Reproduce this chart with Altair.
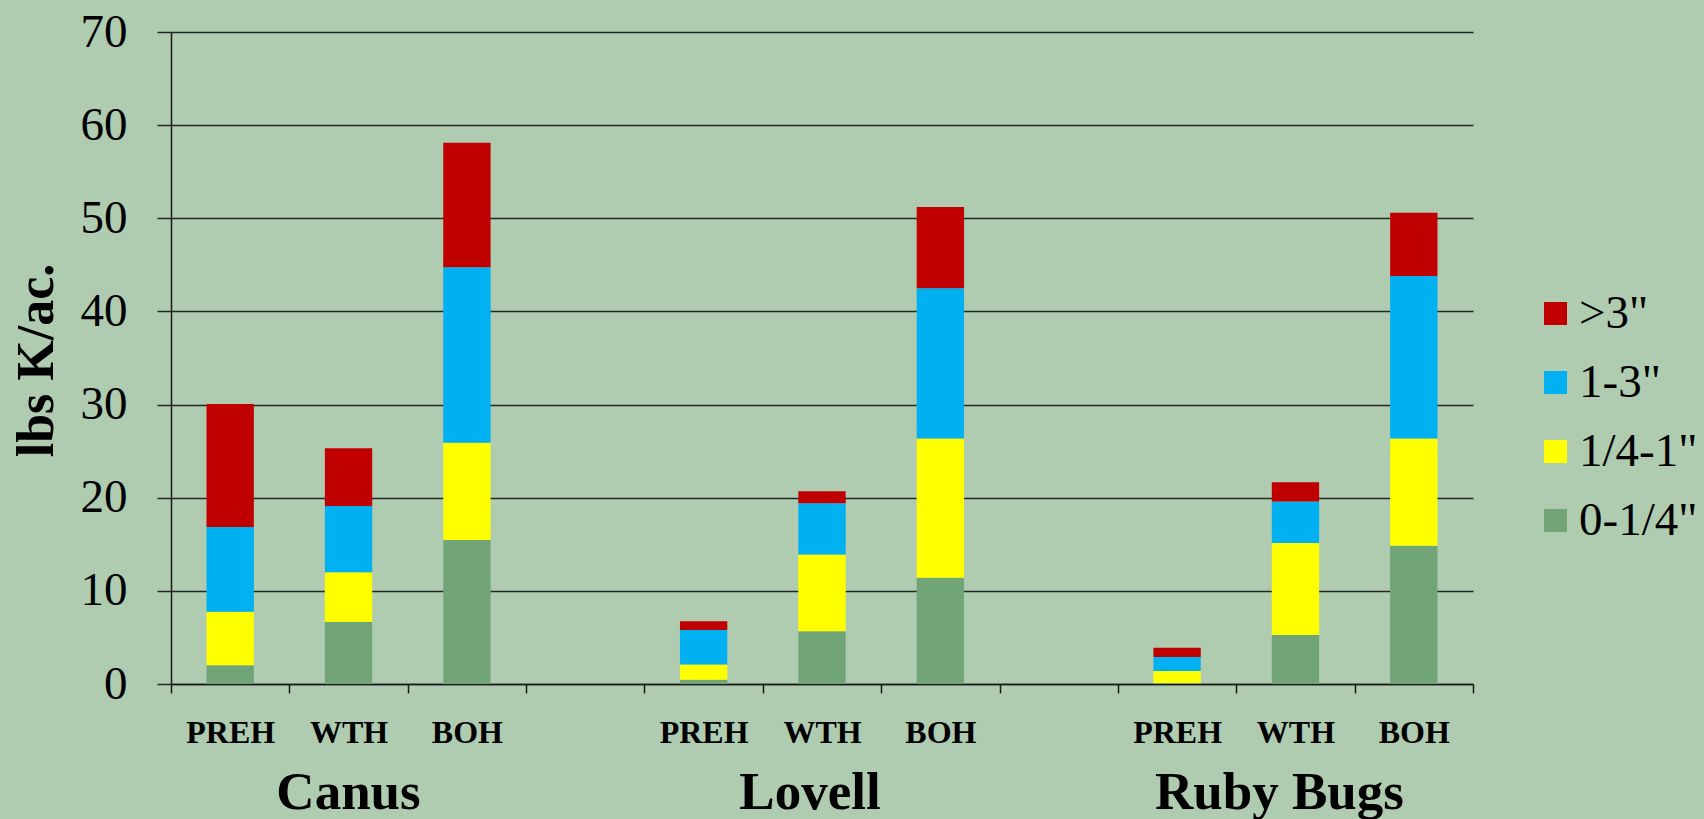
import altair as alt
import pandas as pd

# Category slots along the x axis: three varieties, three harvest treatments each,
# with an empty slot between varieties.
varieties = ["Canus", "Lovell", "Ruby Bugs"]
treatments = ["PREH", "WTH", "BOH"]
slots = [
    "Canus|PREH", "Canus|WTH", "Canus|BOH", "gap1",
    "Lovell|PREH", "Lovell|WTH", "Lovell|BOH", "gap2",
    "Ruby Bugs|PREH", "Ruby Bugs|WTH", "Ruby Bugs|BOH",
]

# Size classes, bottom of the stack first
size_classes = ['0-1/4"', '1/4-1"', '1-3"', '>3"']
class_colors = ["#71A477", "#FFFF00", "#00B0F0", "#C00000"]

# lbs K/ac. per size class, ordered Canus PREH/WTH/BOH, Lovell ..., Ruby Bugs ...
k_0_quarter = [2.0, 6.65, 15.45, 0.45, 5.65, 11.4, 0.1, 5.25, 14.85]
k_quarter_1 = [5.75, 5.35, 10.45, 1.65, 8.25, 14.95, 1.3, 9.9, 11.5]
k_1_3 = [9.1, 7.1, 18.85, 3.7, 5.5, 16.15, 1.5, 4.45, 17.45]
k_over_3 = [13.2, 6.2, 13.35, 0.95, 1.3, 8.7, 1.0, 2.05, 6.8]

series = [k_0_quarter, k_quarter_1, k_1_3, k_over_3]

rows = []
i = 0
for v in varieties:
    for t in treatments:
        for rank, (cls, vals) in enumerate(zip(size_classes, series)):
            rows.append({"slot": f"{v}|{t}", "cls": cls, "rank": rank, "k": vals[i]})
        i += 1
bars_df = pd.DataFrame(rows)

FONT = "'Liberation Serif', 'Times New Roman', serif"
W, H = 1302, 652

x_scale = alt.Scale(domain=slots, paddingInner=0, paddingOuter=0)

bars = alt.Chart(bars_df).mark_bar(width=alt.RelativeBandSize(0.4)).encode(
    x=alt.X(
        "slot:N",
        scale=x_scale,
        axis=alt.Axis(
            title=None,
            # show only the treatment part of the slot name; spacer slots get no label
            labelExpr="split('' + datum.value, '|')[1] || ''",
            labelAngle=0,
            labelFont=FONT,
            labelFontWeight="bold",
            labelFontSize=32,
            labelColor="black",
            labelBaseline="alphabetic",
            labelPadding=49,
            tickBand="extent",
            tickSize=9,
            tickColor="#1a1a1a",
            tickWidth=1.5,
            domainColor="#1a1a1a",
            domainWidth=1.5,
            grid=False,
        ),
    ),
    y=alt.Y(
        "k:Q",
        stack="zero",
        scale=alt.Scale(domain=[0, 70], nice=False),
        axis=alt.Axis(
            title="lbs K/ac.",
            values=list(range(0, 71, 10)),
            grid=True,
            gridColor="#262626",
            gridWidth=1.5,
            domainColor="#1a1a1a",
            domainWidth=1.5,
            tickColor="#262626",
            tickWidth=1.5,
            tickSize=14,
            labelFont=FONT,
            labelFontSize=47,
            labelColor="black",
            labelPadding=30,
            titleFont=FONT,
            titleFontSize=52,
            titleFontWeight="bold",
            titleColor="black",
            titleAngle=270,
            titleBaseline="alphabetic",
            titleX=-119,
            titleY=328,
        ),
    ),
    color=alt.Color(
        "cls:N",
        scale=alt.Scale(domain=size_classes[::-1], range=class_colors[::-1]),
        legend=alt.Legend(
            title=None,
            orient="none",
            legendX=1361,
            legendY=258,
            symbolType="square",
            symbolSize=529,
            symbolStrokeWidth=0,
            symbolOpacity=1,
            labelFont=FONT,
            labelFontSize=47,
            labelColor="black",
            labelOffset=0,
            rowPadding=21,
        ),
    ),
    order=alt.Order("rank:Q", sort="ascending"),
)

# Variety names under the middle (WTH) slot of each group; the later
# names sit a little left of the slot centre.
name_nudge = {"Canus": 0, "Lovell": -12, "Ruby Bugs": -16}
group_layers = []
for v in varieties:
    group_layers.append(
        alt.Chart(pd.DataFrame({"slot": [f"{v}|WTH"], "name": [v]})).mark_text(
            font=FONT,
            fontSize=53,
            fontWeight="bold",
            color="black",
            align="center",
            baseline="alphabetic",
            dx=name_nudge[v],
        ).encode(
            x=alt.X("slot:N", scale=x_scale),
            y=alt.value(777),
            text="name:N",
        )
    )

chart = alt.layer(bars, *group_layers).properties(
    width=W,
    height=H,
    background="#AFCCB1",
    padding={"left": 171, "top": 32, "right": 231, "bottom": 135},
    autosize=alt.AutoSizeParams(type="none"),
).configure(font=FONT).configure_view(stroke=None)

chart.save("out.html", embed_options={"renderer": "svg", "actions": False})
